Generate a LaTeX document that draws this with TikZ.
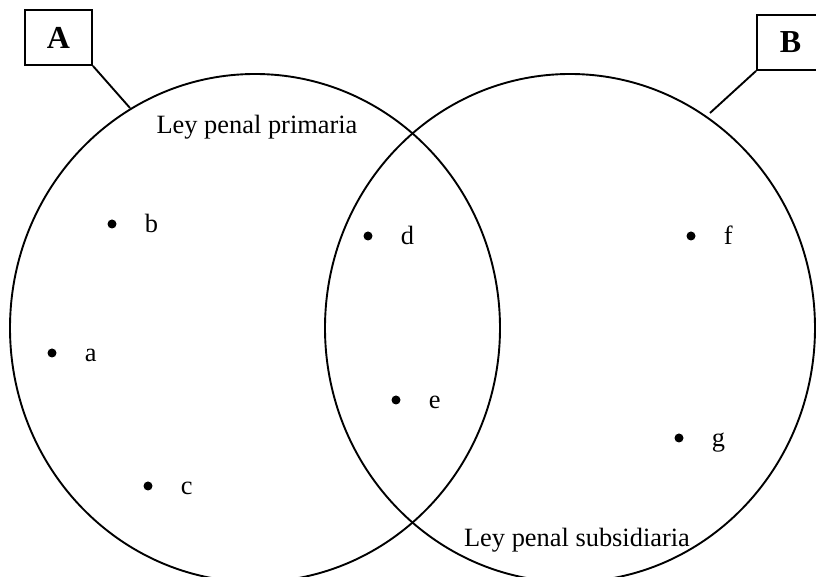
\documentclass[tikz,border=0pt]{standalone}
\usepackage{fontspec}
\setmainfont{Liberation Serif}
\usetikzlibrary{positioning}
\tikzset{
  punto/.style={circle, fill, inner sep=0pt, minimum size=4.5pt},
  caja/.style={draw, minimum width=33.5pt, minimum height=27.5pt, font=\fontsize{16}{19}\selectfont\bfseries}
}
\begin{document}
\begin{tikzpicture}[x=0.5pt, y=-0.5pt, line width=0.95pt, font=\fontsize{13.2}{15}\selectfont]
    \useasboundingbox (0,0) rectangle (816,577);
    %conjuntos
    \draw (255,328) ellipse [x radius=245, y radius=254];
    \draw (570,328) ellipse [x radius=245, y radius=254];
    \node at (257,127) (prim) {Ley penal primaria};
    \node at (577,540) (subs) {Ley penal subsidiaria};
    %etiquetas
    \node[caja] (A) at (58.5,37.5) {A};
    \node[caja] (B) at (790.5,42.5) {B};
    \coordinate (pa) at (130,108);
    \coordinate (pb) at (710,113);
    \draw (A.south east) -- (pa);
    \draw (B.south west) -- (pb);
    %casos
    \foreach \n/\x/\y in {a/52/353, b/112/224, c/148/486, d/368/236, e/396/400, f/691/236, g/679/438}{
        \node[punto] (p\n) at (\x,\y) {};
        \node[right=16pt of p\n.center, anchor=base west, inner sep=0pt, yshift=-4.5pt] (\n) {\n};
    }
\end{tikzpicture}
\end{document}
